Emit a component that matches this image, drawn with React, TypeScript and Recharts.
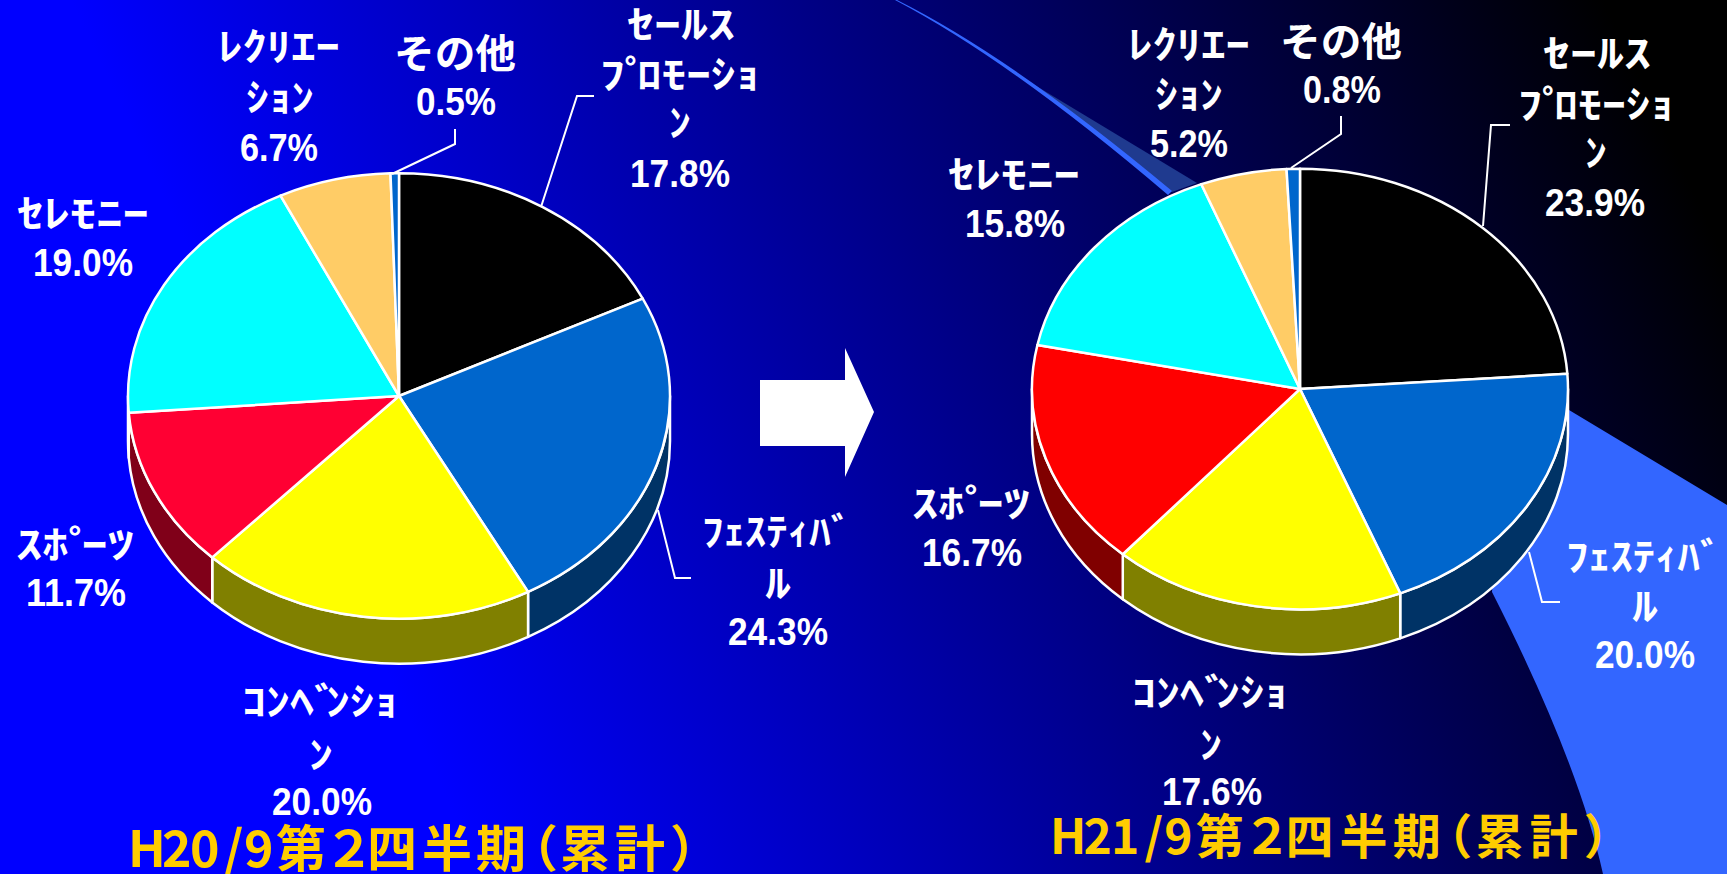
import { PieChart, Pie } from "recharts";

const W = 1727;
const H = 874;

const categories = ["セールスプロモーション", "フェスティバル", "コンベンション", "スポーツ", "セレモニー", "レクリエーション", "その他"];
const valuesH20 = [17.8, 24.3, 20.0, 11.7, 19.0, 6.7, 0.5];
const valuesH21 = [23.9, 20.0, 17.6, 16.7, 15.8, 5.2, 0.8];
const colorsH20 = ["#000000", "#0066CC", "#FFFF00", "#FF0033", "#00FFFF", "#FFCC66", "#0066CC"];
const colorsH21 = ["#000000", "#0066CC", "#FFFF00", "#FF0000", "#00FFFF", "#FFCC66", "#0066CC"];
const sideH20 = ["#000000", "#003366", "#808000", "#800019", "#008080", "#806633", "#003366"];
const sideH21 = ["#000000", "#003366", "#808000", "#800000", "#008080", "#806633", "#003366"];

const titleH20 = "H20/9第２四半期（累計）";
const titleH21 = "H21/9第２四半期（累計）";
// glyph offsets from the start of a title, read from the left one
const titleOffsets = [0, 34, 62, 96, 116, 148, 196, 239, 294, 348, 380, 432, 487, 542];

// [text, centre x, baseline y, width]
type Line = [string, number, number, number];
const labelsH20: Line[][] = [
  [["ｾｰﾙｽ", 681, 38, 108], ["ﾌﾟﾛﾓｰｼｮ", 680, 88, 160], ["ﾝ", 680, 136, 22], ["17.8%", 680, 187, 100]],
  [["ﾌｪｽﾃｨﾊﾞ", 777, 545, 150], ["ﾙ", 778, 597, 26], ["24.3%", 778, 645, 100]],
  [["ｺﾝﾍﾞﾝｼｮ", 320, 715, 156], ["ﾝ", 321, 768, 24], ["20.0%", 322, 815, 100]],
  [["ｽﾎﾟｰﾂ", 75, 558, 118], ["11.7%", 76, 606, 100]],
  [["ｾﾚﾓﾆｰ", 83, 227, 132], ["19.0%", 83, 276, 100]],
  [["ﾚｸﾘｴｰ", 279, 60, 122], ["ｼｮﾝ", 280, 111, 68], ["6.7%", 279, 161, 78]],
];
const labelsH21: Line[][] = [
  [["ｾｰﾙｽ", 1597, 67, 108], ["ﾌﾟﾛﾓｰｼｮ", 1596, 118, 156], ["ﾝ", 1596, 166, 22], ["23.9%", 1595, 216, 100]],
  [["ﾌｪｽﾃｨﾊﾞ", 1644, 570, 156], ["ﾙ", 1645, 620, 26], ["20.0%", 1645, 668, 100]],
  [["ｺﾝﾍﾞﾝｼｮ", 1210, 706, 156], ["ﾝ", 1211, 758, 22], ["17.6%", 1212, 805, 100]],
  [["ｽﾎﾟｰﾂ", 971, 517, 118], ["16.7%", 972, 566, 100]],
  [["ｾﾚﾓﾆｰ", 1014, 188, 132], ["15.8%", 1015, 237, 100]],
  [["ﾚｸﾘｴｰ", 1189, 58, 122], ["ｼｮﾝ", 1189, 108, 68], ["5.2%", 1189, 157, 78]],
];
const otherH20: Line[] = [["その他", 455, 68, 122], ["0.5%", 456, 115, 80]];
const otherH21: Line[] = [["その他", 1341, 56, 122], ["0.8%", 1342, 103, 78]];

// leader lines, one per label that has one
const leadersH20 = [
  "M541,207 L577,96 L594,96",
  "M658,510 L675,578 L691,578",
  "M392,174 L455,144 L455,129",
];
const leadersH21 = [
  "M1483,226 L1491,125 L1510,125",
  "M1529,552 L1542,602 L1560,602",
  "M1291,168 L1341,134 L1341,116",
];

const RY_RATIO = 0.822;
const DEPTH = 45;

const tableH20 = categories.map((name, i) => ({ name, value: valuesH20[i], fill: colorsH20[i], side: sideH20[i] }));
const tableH21 = categories.map((name, i) => ({ name, value: valuesH21[i], fill: colorsH21[i], side: sideH21[i] }));

const rad = (a: number) => (a * Math.PI) / 180;

function TopSector(props: any) {
  const { cx, cy, outerRadius: r, startAngle, endAngle, fill } = props;
  const ry = r * RY_RATIO;
  const x1 = cx + r * Math.cos(rad(startAngle));
  const y1 = cy - ry * Math.sin(rad(startAngle));
  const x2 = cx + r * Math.cos(rad(endAngle));
  const y2 = cy - ry * Math.sin(rad(endAngle));
  const large = Math.abs(startAngle - endAngle) > 180 ? 1 : 0;
  return (
    <path
      d={`M${cx},${cy} L${x1},${y1} A${r},${ry} 0 ${large} 1 ${x2},${y2} Z`}
      fill={fill}
      stroke="#fff"
      strokeWidth={2.5}
      strokeLinejoin="round"
    />
  );
}

function SideWall(props: any) {
  const { cx, cy, outerRadius: r, startAngle, endAngle, payload } = props;
  const ry = r * RY_RATIO;
  const a1 = Math.min(startAngle, 0);
  const a2 = Math.max(endAngle, -180);
  if (a1 <= a2) return null;
  const x1 = cx + r * Math.cos(rad(a1));
  const y1 = cy - ry * Math.sin(rad(a1));
  const x2 = cx + r * Math.cos(rad(a2));
  const y2 = cy - ry * Math.sin(rad(a2));
  return (
    <path
      d={`M${x1},${y1} A${r},${ry} 0 0 1 ${x2},${y2} L${x2},${y2 + DEPTH} A${r},${ry} 0 0 0 ${x1},${y1 + DEPTH} Z`}
      fill={payload?.side ?? props.side}
      stroke="#fff"
      strokeWidth={2.5}
      strokeLinejoin="round"
    />
  );
}

// pulls the glyph after a dakuten mark back, the marks sit tight in the reference
function kanaDx(text: string, size: number) {
  return Array.from(text)
    .map((_, i, all) => (all[i - 1] === "ﾞ" || all[i - 1] === "ﾟ" ? -size * 0.25 : 0))
    .join(" ");
}

function TextLine({ line, size, fill }: { line: Line; size: number; fill: string }) {
  return (
    <text
      x={line[1]}
      y={line[2]}
      dx={kanaDx(line[0], size)}
      textAnchor="middle"
      fontFamily="'Liberation Sans', 'Noto Sans CJK JP', sans-serif"
      fontWeight={700}
      fontSize={size}
      fill={fill}
      textLength={line[3]}
      lengthAdjust="spacingAndGlyphs"
    >
      {line[0]}
    </text>
  );
}

function Title({ text, x, y, size, scale }: { text: string; x: number; y: number; size: number; scale: number }) {
  return (
    <text
      x={titleOffsets.map((o) => x + o * scale).join(" ")}
      y={y}
      fontFamily="'Noto Sans CJK JP', sans-serif"
      fontWeight={700}
      fontSize={size}
      fill="#FFCC00"
    >
      {text}
    </text>
  );
}

function Backdrop() {
  return (
    <svg width={W} height={H} style={{ position: "absolute", left: 0, top: 0 }}>
      <defs>
        <linearGradient id="bg" x1="0.16" y1="0.5" x2="1" y2="0.3">
          <stop offset="0" stopColor="#0000FF" />
          <stop offset="1" stopColor="#000000" />
        </linearGradient>
      </defs>
      <rect width={W} height={H} fill="url(#bg)" />
      {/* swoosh behind the right pie */}
      <path d="M1023,78 L1197,183 L1172,192 Z" fill="#1F3A8F" />
      <path d="M897,0 Q1013,58 1172,191 L1168,195 Q1011,61 895,0 Z" fill="#3366FF" />
      <path d="M1569,410 L1727,505 L1727,874 L1603,874 Q1578,761 1492,592 L1500,500 Z" fill="#3366FF" />
      <path d="M760,380 L845,380 L845,348 L874,412 L845,477 L845,446 L760,446 Z" fill="#fff" />
      <Title text={titleH20} x={128} y={867} size={50} scale={1} />
      <Title text={titleH21} x={1050} y={854} size={48} scale={0.985} />
    </svg>
  );
}

function pieLabels(lines: Line[][]) {
  return ({ index }: any) => (
    <g>
      {(lines[index] ?? []).map((l, i) => (
        <TextLine key={i} line={l} size={38} fill="#fff" />
      ))}
    </g>
  );
}

const noMargin = { top: 0, right: 0, bottom: 0, left: 0 };

export default function App() {
  return (
    <div style={{ position: "absolute", left: 0, top: 0, width: W, height: H, overflow: "hidden" }}>
      <Backdrop />
      <div style={{ position: "absolute", left: 0, top: 0 }}>
        <PieChart width={W} height={H} margin={noMargin}>
          <Pie data={tableH20} dataKey="value" nameKey="name" cx={399} cy={396} outerRadius={271} startAngle={90} endAngle={-270} shape={SideWall} inactiveShape={SideWall} isAnimationActive={false} />
          <Pie data={tableH20} dataKey="value" nameKey="name" cx={399} cy={396} outerRadius={271} startAngle={90} endAngle={-270} shape={TopSector} inactiveShape={TopSector} label={pieLabels(labelsH20)} labelLine={false} isAnimationActive={false} />
          <Pie data={tableH21} dataKey="value" nameKey="name" cx={1300} cy={389} outerRadius={268} startAngle={90} endAngle={-270} shape={SideWall} inactiveShape={SideWall} isAnimationActive={false} />
          <Pie data={tableH21} dataKey="value" nameKey="name" cx={1300} cy={389} outerRadius={268} startAngle={90} endAngle={-270} shape={TopSector} inactiveShape={TopSector} label={pieLabels(labelsH21)} labelLine={false} isAnimationActive={false} />
        </PieChart>
      </div>
      <svg width={W} height={H} style={{ position: "absolute", left: 0, top: 0, pointerEvents: "none" }}>
        {[...leadersH20, ...leadersH21].map((d, i) => (
          <path key={i} d={d} fill="none" stroke="#fff" strokeWidth={2} />
        ))}
        {[otherH20, otherH21].map((lines, i) => (
          <g key={i}>
            <TextLine line={lines[0]} size={40} fill="#fff" />
            <TextLine line={lines[1]} size={38} fill="#fff" />
          </g>
        ))}
      </svg>
    </div>
  );
}
